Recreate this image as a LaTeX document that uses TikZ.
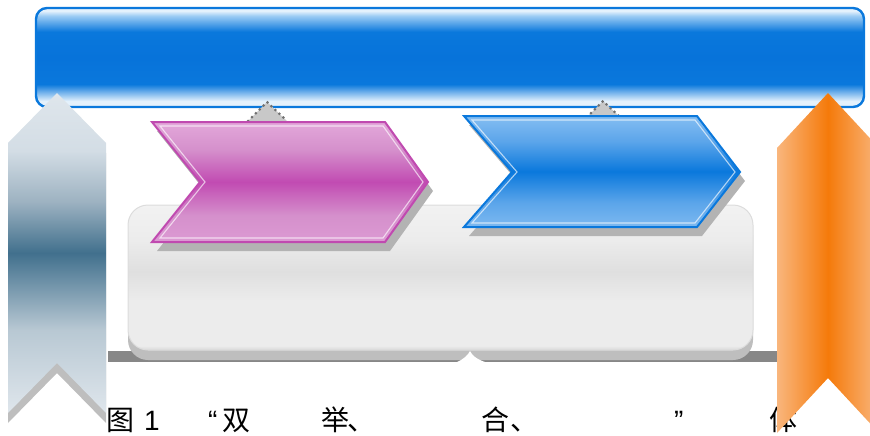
\documentclass[tikz,border=0pt]{standalone}
\usepackage{fontspec}
\newfontfamily\cjk{Noto Sans CJK SC}
\newfontfamily\latn{Liberation Sans}
\definecolor{barBlue}{HTML}{0A78DC}
\definecolor{barDark}{HTML}{0773DA}
\definecolor{barLight}{HTML}{E4F1FC}
\definecolor{barMid}{HTML}{9BCBF4}
\definecolor{darkBarGray}{HTML}{878787}
\definecolor{shadowGray}{HTML}{BEBEBE}
\definecolor{chevShadow}{HTML}{B3B3B3}
\definecolor{rectBorder}{HTML}{DCDCDC}
\definecolor{rA}{HTML}{D9D9D9}
\definecolor{rB}{HTML}{ECECEC}
\definecolor{rC}{HTML}{DFDFDF}
\definecolor{rD}{HTML}{F2F2F2}
\definecolor{pinkEdge}{HTML}{C04AB0}
\definecolor{pA}{HTML}{DC9AD3}
\definecolor{pB}{HTML}{D590CC}
\definecolor{pC}{HTML}{C14BB2}
\definecolor{pD}{HTML}{E3A8DA}
\definecolor{bA}{HTML}{7DB9F0}
\definecolor{bB}{HTML}{5BA5EA}
\definecolor{bC}{HTML}{0A78DC}
\definecolor{bD}{HTML}{85BEF2}
\definecolor{gA}{HTML}{DFE6EC}
\definecolor{gB}{HTML}{B8C8D3}
\definecolor{gC}{HTML}{41708D}
\definecolor{gD}{HTML}{9DB2C1}
\definecolor{gE}{HTML}{D3DDE5}
\definecolor{oLight}{HTML}{F9B67D}
\definecolor{oDark}{HTML}{F57A0A}
\definecolor{triFill}{HTML}{C8C8C8}
\definecolor{triDot}{HTML}{707070}
\pgfdeclareverticalshading{barshade}{100bp}{color(0bp)=(barLight); color(25bp)=(barLight); color(28bp)=(barLight); color(36.5bp)=(barBlue); color(50bp)=(barDark); color(63bp)=(barBlue); color(71bp)=(barMid); color(73.5bp)=(barLight); color(100bp)=(barLight)}
\pgfdeclareverticalshading{rectshade}{100bp}{color(0bp)=(rA); color(25bp)=(rA); color(26.5bp)=(rB); color(42bp)=(rB); color(52bp)=(rC); color(63bp)=(rB); color(75bp)=(rD); color(100bp)=(rD)}
\pgfdeclareverticalshading{pinkshade}{100bp}{color(0bp)=(pA); color(25bp)=(pA); color(36bp)=(pB); color(50bp)=(pC); color(63.5bp)=(pB); color(75bp)=(pD); color(100bp)=(pD)}
\pgfdeclareverticalshading{blueshade}{100bp}{color(0bp)=(bA); color(25bp)=(bA); color(36bp)=(bB); color(50bp)=(bC); color(63.5bp)=(bB); color(75bp)=(bD); color(100bp)=(bD)}
\pgfdeclareverticalshading{ribbonshade}{100bp}{color(0bp)=(gA); color(25bp)=(gA); color(38bp)=(gB); color(50bp)=(gC); color(58bp)=(gD); color(66bp)=(gE); color(75bp)=(gA); color(100bp)=(gA)}
\tikzset{
  chevshadow/.style={fill=chevShadow},
  highlight/.style={draw=white, opacity=0.65, line width=1.1pt, line join=miter},
  dottri/.style={fill=triFill, draw=triDot, line width=3pt, line cap=round, dash pattern=on 0pt off 5.5pt},
  caption/.style={font=\cjk\fontsize{28}{28}\selectfont, anchor=base west, inner sep=0pt, text=black},
  captionl/.style={caption, font=\latn\fontsize{28}{28}\selectfont},
}
\begin{document}
\begin{tikzpicture}[x=1pt,y=-1pt]
\useasboundingbox (0,0) rectangle (870,436);
% background gray panel
\fill[darkBarGray] (108,351) rectangle (778,362);
\fill[shadowGray, rounded corners=20pt] (128,215) rectangle (753,360);
\fill[white] (457,362) .. controls (464,359) and (468,355) .. (470,351) .. controls (472,355) and (476,359) .. (485,362) -- cycle;
\shadedraw[shading=rectshade, draw=rectBorder, line width=1pt, rounded corners=20pt] (128,205) rectangle (753,350);
% top blue bar
\shadedraw[shading=barshade, draw=barBlue, line width=2.4pt, rounded corners=11pt] (36,8) rectangle (864,107);
% dotted triangles
\path[dottri] (248,121) -- (267,102) -- (287,121);
\path[dottri] (587,117) -- (603,101) -- (620,117);
% pink chevron
\fill[chevshadow] (157,131) -- (390,131) -- (433,191) -- (390,251) -- (157,251) -- (205,191) -- cycle;
\shadedraw[shading=pinkshade, draw=pinkEdge, line width=2pt] (152,122) -- (385,122) -- (428,182) -- (385,242) -- (152,242) -- (200,182) -- cycle;
\draw[highlight] (160,126) -- (383,126) -- (423,182) -- (383,238) -- (160,238) -- (205,182) -- cycle;
% blue chevron
\fill[chevshadow] (469,125) -- (702,125) -- (745,181) -- (702,236) -- (469,236) -- (517,181) -- cycle;
\shadedraw[shading=blueshade, draw=bC, line width=2pt] (464,116) -- (697,116) -- (740,172) -- (697,227) -- (464,227) -- (512,172) -- cycle;
\draw[highlight] (472,120) -- (695,120) -- (735,172) -- (695,223) -- (472,223) -- (517,172) -- cycle;
% left ribbon
\fill[shadowGray] (8,153) -- (57,103) -- (106,153) -- (106,423) -- (57,373) -- (8,423) -- cycle;
\shade[shading=ribbonshade] (8,143) -- (57,93) -- (106,143) -- (106,413) -- (57,363) -- (8,413) -- cycle;
% caption
\node[caption] (c1) at (106,430) {图};
\node[captionl] (c2) at (144,430) {1};
\node[captionl] (c3) at (208,430) {“};
\node[caption] (c4) at (222,430) {双};
\node[caption] (c5) at (321,430) {举};
\node[caption] (c6) at (347,430) {、};
\node[caption] (c7) at (481,430) {合};
\node[caption] (c8) at (510,430) {、};
\node[captionl] (c9) at (674,430) {”};
\node[caption] (c10) at (769,430) {体};
% right ribbon
\shade[left color=oLight, right color=oLight, middle color=oDark] (777,148) -- (828,93) -- (879,148) -- (879,433) -- (828,378) -- (777,433) -- cycle;
\end{tikzpicture}
\end{document}
